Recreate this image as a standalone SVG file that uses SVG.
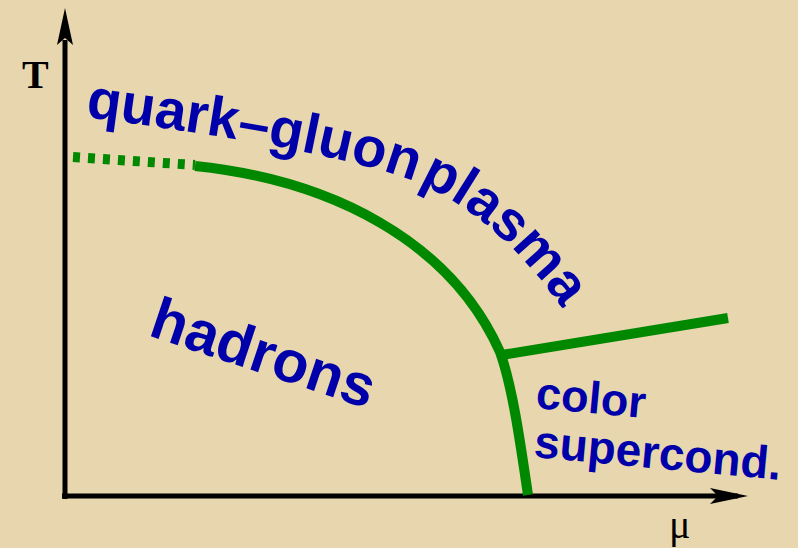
<svg xmlns="http://www.w3.org/2000/svg" width="798" height="548" viewBox="0 0 798 548">
<defs>
<style>
.bg{fill:#e8d7ae}
.axis{stroke:#000;stroke-width:5;fill:none}
.head{fill:#000}
.phase{stroke:#008800;stroke-width:10;fill:none}
.lbl{font-family:"Liberation Sans",Arial,sans-serif;font-weight:bold;fill:#0000aa}
.ax{font-family:"Liberation Serif","Times New Roman",serif;fill:#000}
</style>
<path id="qgpPath" d="M85,117 C220,135 340,155 405,178 C470,201 530,255 580,335"/>
</defs>
<rect class="bg" x="0" y="0" width="798" height="548"/>
<g id="axes">
<line class="axis" x1="65" y1="40" x2="65" y2="499"/>
<line class="axis" x1="62" y1="496" x2="738" y2="496"/>
<polygon class="head" points="65,8 57,45 65,38 73,45"/>
<polygon class="head" points="748,496 710,488 718,496 710,504"/>
</g>
<g id="connectors">
<path class="phase" d="M73,157 L195,165" stroke-dasharray="7 8"/>
<path class="phase" d="M195,166 C330,180 450,240 500,352 C512,385 520,440 528,495"/>
<path class="phase" d="M502,355 L728,318"/>
</g>
<g id="label-T"><text class="ax" x="22" y="88" font-size="40" font-weight="bold">T</text></g>
<g id="label-mu"><text class="ax" x="669" y="538" font-size="40">μ</text></g>
<g id="qgp"><text class="lbl" font-size="56" word-spacing="-11"><textPath href="#qgpPath">quark–gluon plasma</textPath></text></g>
<g id="hadrons"><text class="lbl" font-size="59" transform="translate(147,335) rotate(18.5)">hadrons</text></g>
<g id="csc">
<text class="lbl" font-size="45" transform="translate(535,408) rotate(5.3)">color</text>
<text class="lbl" font-size="46" transform="translate(533,457) rotate(5.3)">supercond.</text>
</g>
</svg>
